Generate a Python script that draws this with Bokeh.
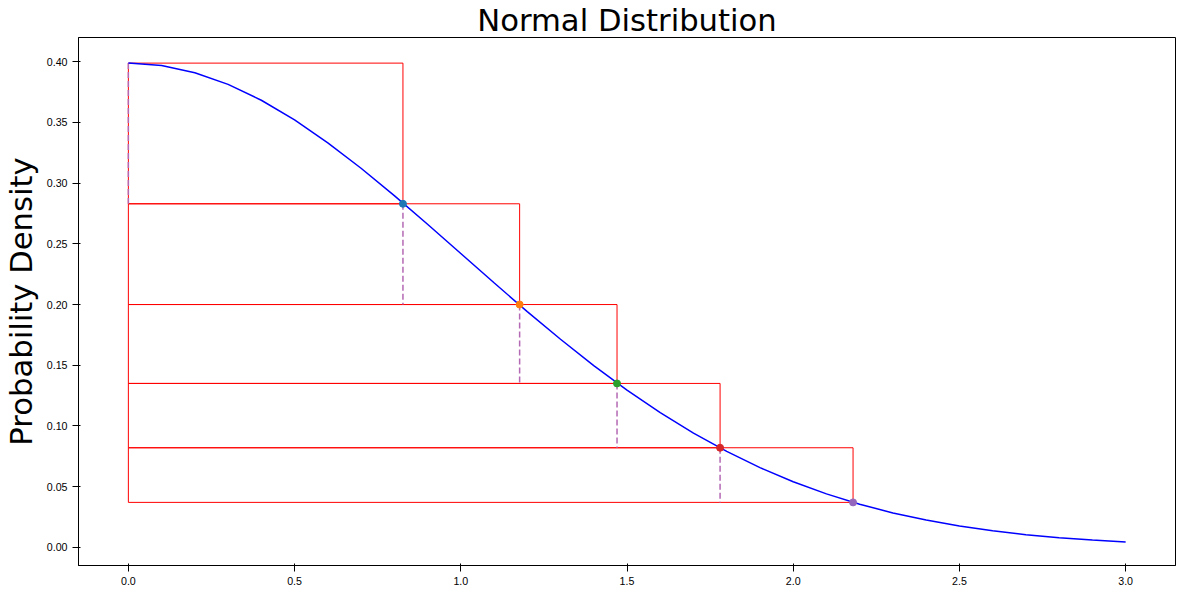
from bokeh.plotting import figure
from bokeh.models import FixedTicker, NumeralTickFormatter
from bokeh.embed import file_html
from bokeh.resources import INLINE

# normal pdf, step 0.1
curve_x = [round(i * 0.1, 1) for i in range(31)]
curve_y = [0.3989, 0.3970, 0.3910, 0.3814, 0.3683, 0.3521, 0.3332, 0.3123, 0.2897, 0.2661,
           0.2420, 0.2179, 0.1942, 0.1714, 0.1497, 0.1295, 0.1109, 0.0940, 0.0790, 0.0656,
           0.0540, 0.0440, 0.0355, 0.0283, 0.0224, 0.0175, 0.0136, 0.0104, 0.0079, 0.0060, 0.0044]

# layer edges
layer_x = [0.826, 1.177, 1.47, 1.78, 2.18]
layer_y = [0.283, 0.200, 0.135, 0.082, 0.037]
top_y = 0.3989
point_colors = ["#1f77b4", "#ff7f0e", "#2ca02c", "#d62728", "#9467bd"]

p = figure(width=1180, height=587, title="Normal Distribution",
           x_range=(-0.15, 3.15), y_range=(-0.015, 0.42),
           output_backend="svg", toolbar_location=None)
p.title.align = "center"
p.title.text_font = "DejaVu Sans"
p.title.text_font_style = "normal"
p.title.text_font_size = "23pt"
p.title.text_color = "black"
p.title.standoff = 0
p.yaxis.axis_label = "Probability Density"
p.yaxis.axis_label_text_font = "DejaVu Sans"
p.yaxis.axis_label_text_font_style = "normal"
p.yaxis.axis_label_text_font_size = "23pt"
p.yaxis.axis_label_text_color = "black"
p.xgrid.visible = False
p.ygrid.visible = False
p.outline_line_color = "black"
p.min_border_top = 0
p.xaxis.ticker = FixedTicker(ticks=[0, 0.5, 1.0, 1.5, 2.0, 2.5, 3.0])
p.yaxis.ticker = FixedTicker(ticks=[0, 0.05, 0.1, 0.15, 0.2, 0.25, 0.3, 0.35, 0.4])
p.xaxis.formatter = NumeralTickFormatter(format="0.0")
p.yaxis.formatter = NumeralTickFormatter(format="0.00")
for ax in (p.xaxis, p.yaxis):
    ax.major_label_text_font_size = "8pt"
    ax.major_label_text_color = "black"
    ax.minor_tick_line_color = None

# rectangles
uppers = [top_y] + layer_y[:-1]
for xi, lo, hi in zip(layer_x, layer_y, uppers):
    p.line([0, xi, xi, 0, 0], [lo, lo, hi, hi, lo], color="red", line_width=1)

# dashed connectors
p.line([0, 0], [top_y, layer_y[0]], color="#b469b4", line_dash="6 3", line_width=1.5)
for i in range(len(layer_x) - 1):
    p.line([layer_x[i], layer_x[i]], [layer_y[i], layer_y[i + 1]],
           color="#b469b4", line_dash="6 3", line_width=1.5)

p.line(curve_x, curve_y, color="blue", line_width=1.5)

for xi, yi, c in zip(layer_x, layer_y, point_colors):
    p.scatter([xi], [yi], color=c, size=7)

open("out.html", "w").write(file_html(p, INLINE))
